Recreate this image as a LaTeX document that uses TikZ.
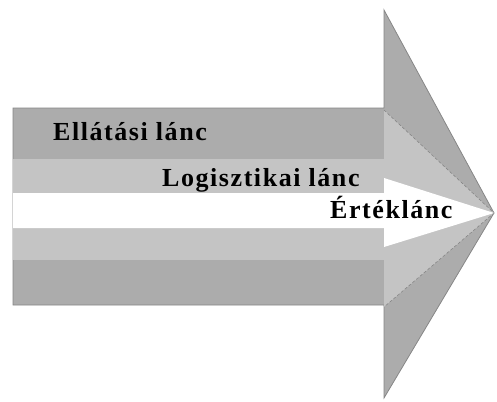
\documentclass[tikz,border=0pt]{standalone}
\usepackage{fontspec}
\setmainfont{Liberation Serif}
\usepackage{tikz}

\begin{document}
\begin{tikzpicture}
    [x=1pt, y=-1pt,
      band/.style={draw = none},
      darkband/.style={band, fill = gray!65},
      lightband/.style={band, fill = gray!46},
      seam/.style={draw = gray, densely dashed, line width = .5pt},
      label/.style={inner sep = 0pt, anchor = base west,
        font = \fontsize{26}{26}\selectfont\bfseries\addfontfeatures{LetterSpace=6}}]
    \useasboundingbox (0,0) rectangle (497,401);
    % outer arrow
    \draw[darkband, draw = gray!95, line width = .8pt]
      (13,108) -- (384,108) -- (384,10) -- (494,213) -- (384,398)
      -- (384,305) -- (13,305) -- cycle;
    % middle arrow head and bands
    \fill[lightband] (384,110) -- (494,213) -- (384,307) -- cycle;
    \draw[seam] (384,110) -- (494,213) -- (384,307);
    \fill[lightband] (13,159) rectangle (384,193);
    \fill[lightband] (13,228) rectangle (384,260);
    % inner arrow
    \fill[white] (13,193) -- (384,193) -- (384,178) -- (494,213)
      -- (384,247) -- (384,228) -- (13,228) -- cycle;
    % labels
    \node[label] (ellatasi) at (53,140) {Ellátási lánc};
    \node[label] (logisztikai) at (162,186) {Logisztikai lánc};
    \node[label] (ertek) at (330,218) {Értéklánc};
  \end{tikzpicture}
\end{document}
